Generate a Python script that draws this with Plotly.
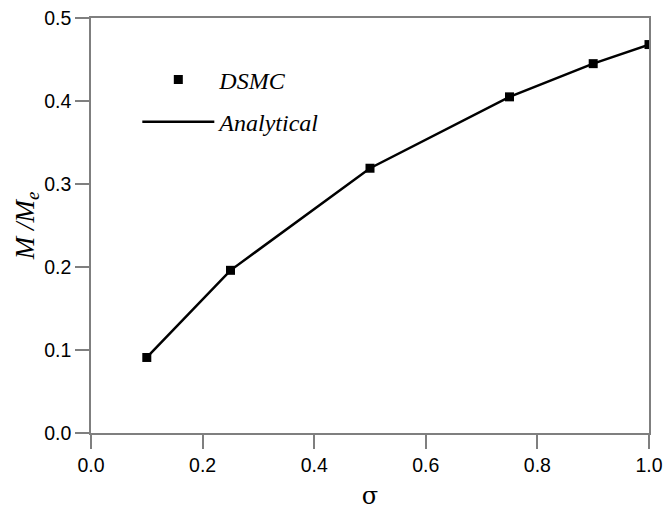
import plotly.graph_objects as go

# DSMC results and analytical curve for M/Me versus sigma
sigma = [0.1, 0.25, 0.5, 0.75, 0.9, 1.0]
dsmc = [0.091, 0.196, 0.319, 0.405, 0.445, 0.468]
analytical = [0.091, 0.196, 0.319, 0.405, 0.445, 0.468]

x_ticks = [0.0, 0.2, 0.4, 0.6, 0.8, 1.0]
y_ticks = [0.0, 0.1, 0.2, 0.3, 0.4, 0.5]

fig = go.Figure()
fig.add_trace(go.Scatter(
    x=sigma, y=dsmc, mode="markers", name="<i>DSMC</i>", legendgroup="a",
    marker=dict(symbol="square", size=9, color="black"),
))
fig.add_trace(go.Scatter(
    x=sigma, y=analytical, mode="lines", name="<i>Analytical</i>", legendgroup="b",
    line=dict(color="black", width=2.5),
))

axis_common = dict(
    showgrid=False, zeroline=False, showline=True, linecolor="#7f7f7f",
    linewidth=1.5, mirror=True, ticks="outside", ticklen=14,
    tickcolor="#7f7f7f", tickwidth=1.5, automargin=False,
    tickfont=dict(family="Liberation Sans, Arial", size=19.5, color="black"),
)

fig.update_layout(
    width=665, height=510,
    margin=dict(l=91, r=16, t=18, b=77),
    paper_bgcolor="white", plot_bgcolor="white",
    xaxis=dict(
        range=[0, 1.0], tickvals=x_ticks, tickformat=".1f",
        title=dict(text="σ", font=dict(family="DejaVu Serif", size=24, color="black"),
                   standoff=12),
        **axis_common,
    ),
    yaxis=dict(
        range=[0, 0.5], tickvals=y_ticks, tickformat=".1f",
        title=dict(text="<i>M /M<sub>e</sub></i>",
                   font=dict(family="Liberation Serif", size=27, color="black"),
                   standoff=2),
        **axis_common,
    ),
    legend=dict(
        x=0.083, y=0.905, xanchor="left", yanchor="top",
        font=dict(family="Liberation Serif", size=24, color="black"),
        bgcolor="rgba(0,0,0,0)", tracegroupgap=8,
        itemwidth=72,
    ),
    showlegend=True,
)

fig.write_html("out.html")
